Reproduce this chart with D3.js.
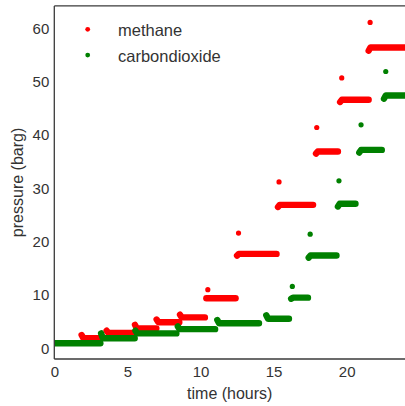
<!DOCTYPE html>
<html>
<head>
<meta charset="utf-8">
<script src="https://cdn.jsdelivr.net/npm/d3@7"></script>
<style>
  html, body { margin: 0; padding: 0; background: #fff; }
  svg { display: block; font-family: "Liberation Sans", Arial, sans-serif; }
</style>
</head>
<body>
<svg id="chart" width="405" height="406"></svg>
<script>
// Pressure logging: each pressure stage is a run of steady readings
// [start hour, end hour, steady pressure, first reading], plus a single
// overshoot reading when the stage is stepped up.
const methaneSteps = [
  [1.87, 3.10, 1.90, 2.50],
  [3.58, 5.50, 2.90, 3.30],
  [5.52, 6.98, 3.75, 4.40],
  [7.00, 8.55, 4.90, 5.40],
  [8.60, 10.30, 5.80, 6.30],
  [10.40, 12.40, 9.40, 9.40],
  [12.50, 15.20, 17.70, 17.40],
  [15.30, 17.70, 26.90, 26.50],
  [17.90, 19.40, 36.90, 36.50],
  [19.55, 21.50, 46.60, 46.20],
  [21.50, 24.50, 56.40, 55.80]
];
const methaneSpikes = [
  [10.50, 11.0], [12.60, 21.6], [15.37, 31.2],
  [17.95, 41.4], [19.66, 50.7], [21.60, 61.1]
];
const co2Steps = [
  [0.00, 3.15, 0.95, 0.95],
  [3.20, 5.50, 1.90, 2.80],
  [5.55, 8.35, 2.80, 3.30],
  [8.45, 11.00, 3.60, 4.10],
  [11.15, 14.00, 4.70, 5.30],
  [14.50, 16.05, 5.55, 6.20],
  [16.20, 17.35, 9.50, 9.30],
  [17.40, 19.30, 17.40, 17.00],
  [19.40, 20.60, 27.10, 26.60],
  [20.86, 22.40, 37.20, 36.70],
  [22.55, 24.50, 47.40, 46.80]
];
const co2Spikes = [
  [16.28, 11.6], [17.50, 21.4], [19.47, 31.4],
  [20.98, 41.9], [22.67, 51.9]
];

const xTicks = [0, 5, 10, 15, 20];
const yTicks = [0, 10, 20, 30, 40, 50, 60];

const series = [
  { name: "methane", color: "#ff0000", steps: methaneSteps, spikes: methaneSpikes },
  { name: "carbondioxide", color: "#008000", steps: co2Steps, spikes: co2Spikes }
];

const svg = d3.select("#chart");
const m = { left: 54.3, right: 405.2, top: 5.9, bottom: 359 };
const x = d3.scaleLinear().domain([0, 24]).range([m.left, m.right]);
const y = d3.scaleLinear().domain([-2, 64.2]).range([m.bottom, m.top]);

svg.append("defs").append("clipPath").attr("id", "plotClip")
  .append("rect").attr("x", m.left).attr("y", m.top)
  .attr("width", m.right - m.left).attr("height", m.bottom - m.top);

const plot = svg.append("g").attr("clip-path", "url(#plotClip)");

const stepLine = d3.line().x(d => x(d[0])).y(d => y(d[1]));

series.forEach(s => {
  const g = plot.append("g");
  g.selectAll("path.step").data(s.steps).join("path")
    .attr("class", "step")
    .attr("d", d => stepLine([[d[0], d[3]], [d[0] + 0.12, d[2]], [d[1], d[2]]]))
    .attr("fill", "none")
    .attr("stroke", s.color)
    .attr("stroke-width", 6.4)
    .attr("stroke-linecap", "round")
    .attr("stroke-linejoin", "round");
  g.selectAll("circle.spike").data(s.spikes).join("circle")
    .attr("class", "spike")
    .attr("cx", d => x(d[0]))
    .attr("cy", d => y(d[1]))
    .attr("r", 2.6)
    .attr("fill", s.color);
});

// axes (no tick marks, labels only)
const textColor = "#333";
const xAxis = d3.axisBottom(x).tickValues(xTicks).tickSize(0).tickPadding(7);
const yAxis = d3.axisLeft(y).tickValues(yTicks).tickSize(0).tickPadding(5);

const gx = svg.append("g").attr("transform", `translate(0,${m.bottom})`).call(xAxis);
const gy = svg.append("g").attr("transform", `translate(${m.left},0)`).call(yAxis);
[gx, gy].forEach(g => {
  g.select(".domain").remove();
  g.selectAll("text").attr("fill", textColor).style("font-size", "15px")
    .style("font-family", "'Liberation Sans', Arial, sans-serif");
});

// frame: left, bottom, top spines
const spine = "#3a3a3a";
svg.append("line").attr("x1", m.left).attr("x2", m.left).attr("y1", m.top).attr("y2", m.bottom)
  .attr("stroke", spine).attr("stroke-width", 1.3);
svg.append("line").attr("x1", m.left).attr("x2", m.right + 2).attr("y1", m.bottom).attr("y2", m.bottom)
  .attr("stroke", spine).attr("stroke-width", 1.3);
svg.append("line").attr("x1", m.left).attr("x2", m.right + 2).attr("y1", m.top).attr("y2", m.top)
  .attr("stroke", spine).attr("stroke-width", 1.3);

// axis titles
svg.append("text").attr("x", (m.left + m.right) / 2).attr("y", 399)
  .attr("text-anchor", "middle").attr("fill", textColor).style("font-size", "16px")
  .text("time (hours)");
svg.append("text")
  .attr("transform", `translate(23,${(m.top + m.bottom) / 2}) rotate(-90)`)
  .attr("text-anchor", "middle").attr("fill", textColor).style("font-size", "16px")
  .text("pressure (barg)");

// legend
const legend = svg.append("g");
series.forEach((s, i) => {
  const cy = 29.3 + i * 25.8;
  legend.append("circle").attr("cx", 87.7).attr("cy", cy).attr("r", 2.4).attr("fill", s.color);
  legend.append("text").attr("x", 118).attr("y", cy + 6.6)
    .attr("fill", textColor).style("font-size", "16.5px").text(s.name);
});
</script>
</body>
</html>
